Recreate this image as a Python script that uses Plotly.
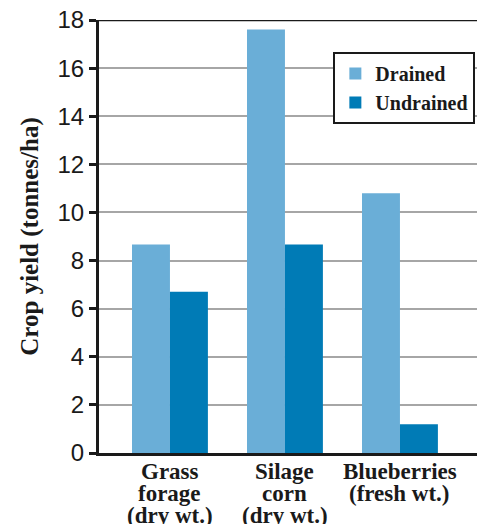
import plotly.graph_objects as go

# Crop yields (tonnes/ha) on drained vs undrained land
crop_lines = [
    ["Grass", "forage", "(dry wt.)"],
    ["Silage", "corn", "(dry wt.)"],
    ["Blueberries", "(fresh wt.)"],
]
drained = [8.67, 17.6, 10.8]
undrained = [6.7, 8.67, 1.2]
y_ticks = [0, 2, 4, 6, 8, 10, 12, 14, 16, 18]

positions = list(range(len(crop_lines)))

LIGHT = "#6aaed7"
DARK = "#007bb6"
SERIF = "Liberation Serif"
SANS = "Liberation Sans"

fig = go.Figure()
fig.add_trace(go.Bar(x=positions, y=drained, name="<b>Drained</b>",
                     marker=dict(color=LIGHT, line=dict(width=0))))
fig.add_trace(go.Bar(x=positions, y=undrained, name="<b>Undrained</b>",
                     marker=dict(color=DARK, line=dict(width=0))))

# Multi-line category labels with tight line spacing
annotations = []
for pos, lines in zip(positions, crop_lines):
    for i, line in enumerate(lines):
        annotations.append(dict(
            x=pos, xref="x", y=0, yref="paper",
            yanchor="top", xanchor="center",
            yshift=-4 - 22 * i,
            text=f"<b>{line}</b>", showarrow=False,
            font=dict(family=SERIF, size=23, color="#1a1a1a"),
        ))

fig.update_layout(
    width=477, height=524,
    margin=dict(l=99, r=0, t=20, b=71),
    paper_bgcolor="white", plot_bgcolor="white",
    barmode="group", bargap=0.34, bargroupgap=0,
    showlegend=True,
    legend=dict(
        x=0.62, y=0.926, xanchor="left", yanchor="top",
        bgcolor="white", bordercolor="#1a1a1a", borderwidth=2,
        font=dict(family=SERIF, size=20, color="#1a1a1a"),
        itemsizing="constant",
    ),
    annotations=annotations,
    shapes=[dict(type="line", xref="paper", x0=0, x1=1, yref="y", y0=18, y1=18,
                 line=dict(color="#1a1a1a", width=2.5), layer="above")],
)

fig.update_xaxes(
    range=[-0.617, 2.67], tickvals=positions, ticktext=["" for _ in positions],
    showgrid=False, zeroline=False, ticks="",
    showline=True, linecolor="#1a1a1a", linewidth=3,
)
fig.update_yaxes(
    range=[0, 18], tickvals=y_ticks, ticktext=[str(v) for v in y_ticks],
    showgrid=True, gridcolor="#a6a6a6", gridwidth=2, zeroline=False,
    showline=True, linecolor="#1a1a1a", linewidth=3,
    ticks="outside", ticklen=7, tickwidth=2.5, tickcolor="#1a1a1a",
    tickfont=dict(family=SANS, size=24, color="#1a1a1a"),
    title=dict(text="<b>Crop yield (tonnes/ha)</b>", standoff=12,
               font=dict(family=SERIF, size=25, color="#1a1a1a")),
)

fig.write_html("out.html")
